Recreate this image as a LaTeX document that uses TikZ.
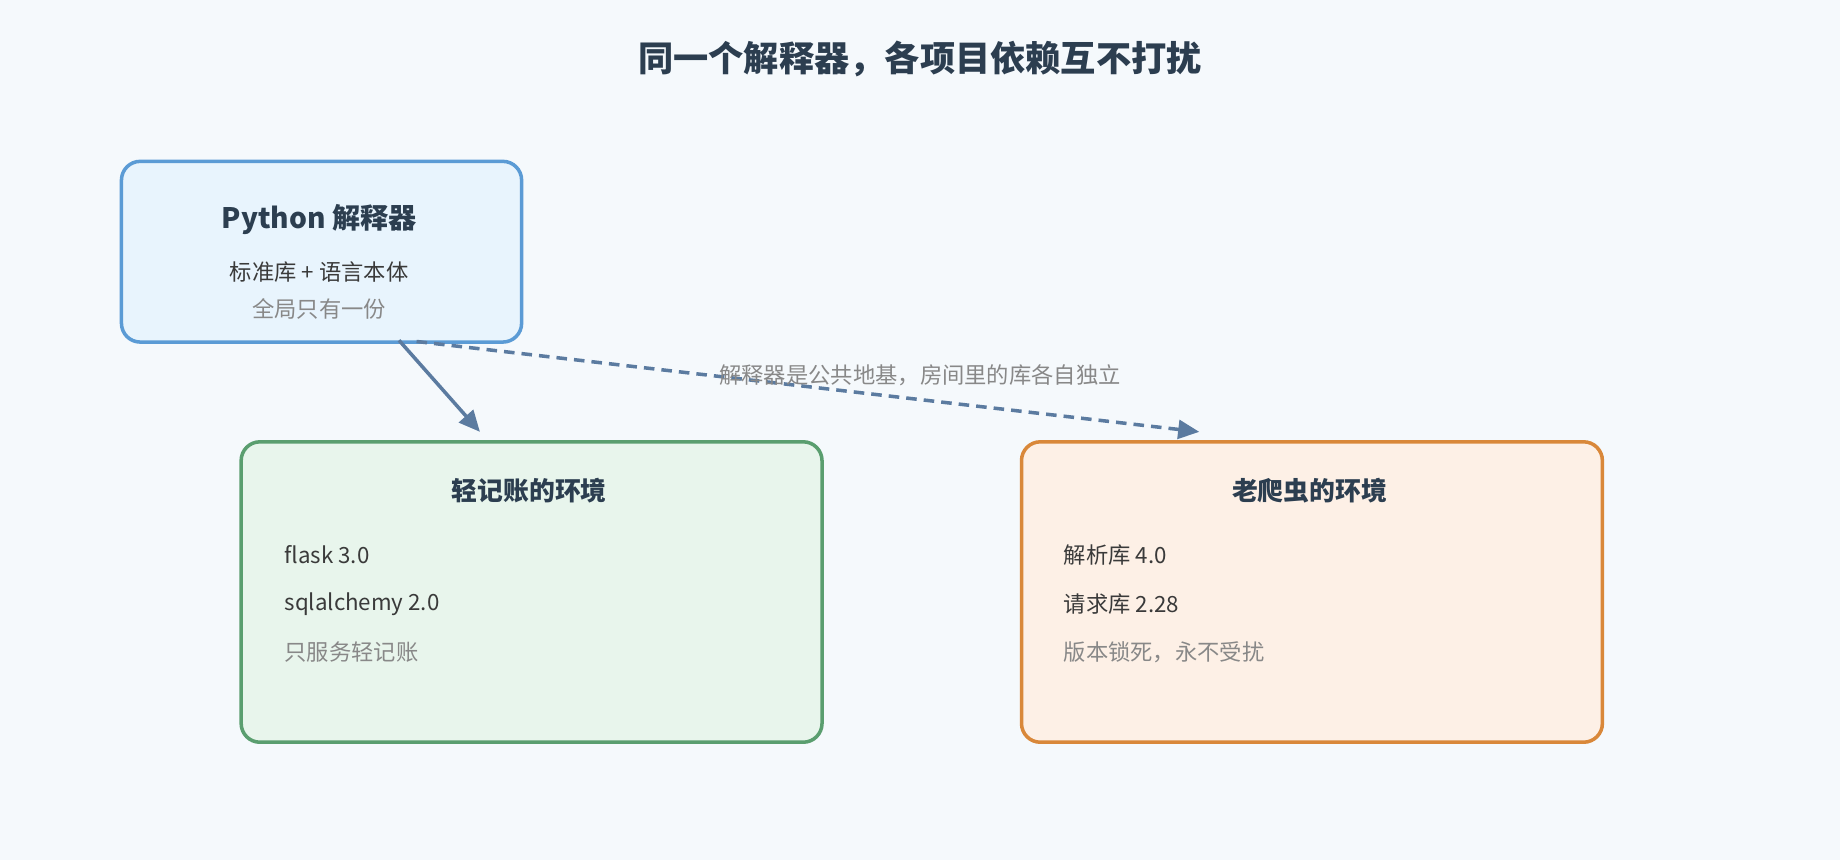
\documentclass[tikz,border=0pt]{standalone}
\usepackage{fontspec}
\setmainfont{Noto Sans CJK SC}
\usetikzlibrary{arrows.meta}
\definecolor{bg}{HTML}{F5F9FC}
\definecolor{ink}{HTML}{2C3E50}
\definecolor{txt}{HTML}{3A3A3A}
\definecolor{gr}{HTML}{888888}
\definecolor{arr}{HTML}{5B7BA0}
\tikzset{
 box/.style={draw, line width=3pt, rounded corners=16pt, anchor=north west, inner sep=0pt},
 head/.style={font=\fontsize{22}{26}\selectfont\bfseries, text=ink},
 item/.style={font=\fontsize{19}{23}\selectfont, text=txt, anchor=west},
 note/.style={font=\fontsize{19}{23}\selectfont, text=gr, anchor=west},
 con/.style={draw=arr, line width=3pt, -{Triangle[length=18pt,width=16pt]}},
}
\begin{document}
\begin{tikzpicture}[x=1pt,y=-1pt]
\fill[bg] (0,0) rectangle (1568,733);
\useasboundingbox (0,0) rectangle (1568,733);
\node[font=\fontsize{30}{34}\selectfont\bfseries, text=ink] (title) at (784,50) {同一个解释器，各项目依赖互不打扰};
% python box
\node[box, draw=blue!50!cyan!60!black!60, fill={rgb,255:red,232;green,244;blue,253}, minimum width=341pt, minimum height=154pt, draw={rgb,255:red,91;green,155;blue,213}] (py) at (102,136) {};
\node[head, font=\fontsize{24}{28}\selectfont\bfseries] (pyt) at (272,187) {Python 解释器};
\node[font=\fontsize{19}{23}\selectfont, text=txt] (pya) at (272,232) {标准库 + 语言本体};
\node[font=\fontsize{19}{23}\selectfont, text=gr] (pyb) at (272,263) {全局只有一份};
% green box
\node[box, draw={rgb,255:red,90;green,158;blue,111}, fill={rgb,255:red,232;green,245;blue,236}, minimum width=495pt, minimum height=256pt] (g) at (204,375) {};
\node[head] (gt) at (451,418) {轻记账的环境};
\node[item] (g1) at (239,473) {flask 3.0};
\node[item] (g2) at (239,515) {sqlalchemy 2.0};
\node[note] (g3) at (239,556) {只服务轻记账};
% orange box
\node[box, draw={rgb,255:red,217;green,136;blue,58}, fill={rgb,255:red,253;green,240;blue,230}, minimum width=495pt, minimum height=256pt] (o) at (869,375) {};
\node[head] (ot) at (1116,418) {老爬虫的环境};
\node[item] (o1) at (903,473) {解析库 4.0};
\node[item] (o2) at (903,515) {请求库 2.28};
\node[note] (o3) at (903,556) {版本锁死，永不受扰};
% connectors
\coordinate (s1) at (340,290);
\coordinate (e1) at (409,368);
\coordinate (s2) at (355,291);
\coordinate (e2) at (1022,368);
\draw[con] (s1) -- (e1);
\draw[con, dash pattern=on 9pt off 6pt] (s2) -- (e2);
\node[font=\fontsize{19}{23}\selectfont, text=gr] (lbl) at (784,320) {解释器是公共地基，房间里的库各自独立};
\end{tikzpicture}
\end{document}
